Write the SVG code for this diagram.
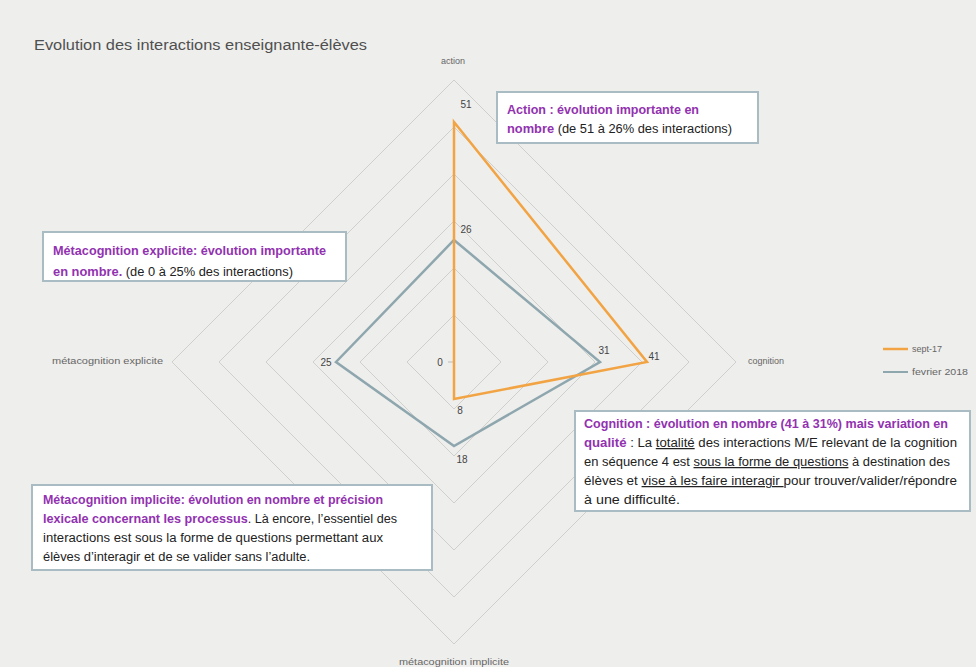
<svg xmlns="http://www.w3.org/2000/svg" width="976" height="667" viewBox="0 0 976 667">
<style>
.bg{fill:#eeeeec}
.grid{fill:none;stroke:#cfcfcd;stroke-width:1}
.axl{font-family:"Liberation Sans",Arial,sans-serif;font-size:9px;fill:#666}
.num{font-family:"Liberation Sans",Arial,sans-serif;font-size:10px;fill:#444;text-anchor:middle}
.box{fill:#ffffff;stroke:#a9bcc3;stroke-width:2}
.bt{font-family:"Liberation Sans",Arial,sans-serif;font-size:12.5px;fill:#222}
.pu{fill:#9232b0;font-weight:bold}
.ul{text-decoration:underline}
.title{font-family:"Liberation Sans",Arial,sans-serif;font-size:15.5px;fill:#505050}
.s1{fill:none;stroke:#f2a444;stroke-width:2.5;stroke-linejoin:miter}
.s2{fill:none;stroke:#8ea6ae;stroke-width:2.5;stroke-linejoin:miter}
</style>
<rect class="bg" x="0" y="0" width="976" height="667"/>
<text class="title" x="34" y="50" textLength="333" lengthAdjust="spacingAndGlyphs">Evolution des interactions enseignante-élèves</text>

<g id="grid">
<polygon class="grid" points="454,315 501,362 454,409 407,362"/>
<polygon class="grid" points="454,268 548,362 454,456 360,362"/>
<polygon class="grid" points="454,221 595,362 454,503 313,362"/>
<polygon class="grid" points="454,174 642,362 454,550 266,362"/>
<polygon class="grid" points="454,127 689,362 454,597 219,362"/>
<polygon class="grid" points="454,80 736,362 454,644 172,362"/>
<line x1="448" y1="362" x2="454" y2="362" stroke="#bbb" stroke-width="1"/>
</g>

<g id="axis-labels">
<text class="axl" x="453" y="64" text-anchor="middle">action</text>
<text class="axl" x="748" y="364">cognition</text>
<text class="axl" x="52" y="364" textLength="111" lengthAdjust="spacingAndGlyphs">métacognition explicite</text>
<text class="axl" x="399" y="665" textLength="110" lengthAdjust="spacingAndGlyphs">métacognition implicite</text>
</g>

<g id="connectors">
<polygon id="series-fevrier-2018" class="s2" points="454,240 600,362 454,446 336,362"/>
<polygon id="series-sept-17" class="s1" points="454,122 647,362 454,399 454,362"/>
</g>

<g id="values">
<text class="num" x="466" y="108">51</text>
<text class="num" x="466" y="233">26</text>
<text class="num" x="440" y="366">0</text>
<text class="num" x="604" y="354">31</text>
<text class="num" x="654" y="360">41</text>
<text class="num" x="326" y="366">25</text>
<text class="num" x="460" y="414">8</text>
<text class="num" x="462" y="463">18</text>
</g>

<g id="legend">
<line x1="883" y1="349" x2="908" y2="349" stroke="#f2a444" stroke-width="2.5"/>
<text class="axl" x="912" y="352">sept-17</text>
<line x1="883" y1="372" x2="908" y2="372" stroke="#8ea6ae" stroke-width="2"/>
<text class="axl" x="912" y="375" textLength="56" lengthAdjust="spacingAndGlyphs">fevrier 2018</text>
</g>

<g id="note-action">
<rect class="box" x="497" y="92" width="261" height="51"/>
<text class="bt" x="507" y="114" textLength="192" lengthAdjust="spacingAndGlyphs"><tspan class="pu">Action : évolution importante en</tspan></text>
<text class="bt" x="507" y="133" textLength="225" lengthAdjust="spacingAndGlyphs"><tspan class="pu">nombre</tspan> (de 51 à 26% des interactions)</text>
</g>

<g id="note-metacognition-explicite">
<rect class="box" x="43" y="232" width="303" height="49"/>
<text class="bt" x="53" y="255" textLength="273" lengthAdjust="spacingAndGlyphs"><tspan class="pu">Métacognition explicite: évolution importante</tspan></text>
<text class="bt" x="53" y="276" textLength="240" lengthAdjust="spacingAndGlyphs"><tspan class="pu">en nombre.</tspan> (de 0 à 25% des interactions)</text>
</g>

<g id="note-cognition">
<rect class="box" x="575" y="411" width="395" height="100"/>
<text class="bt" x="584" y="428" textLength="364" lengthAdjust="spacingAndGlyphs"><tspan class="pu">Cognition : évolution en nombre (41 à 31%) mais variation en</tspan></text>
<text class="bt" x="584" y="447" textLength="373" lengthAdjust="spacingAndGlyphs"><tspan class="pu">qualité</tspan> : La <tspan class="ul">totalité</tspan> des interactions M/E relevant de la cognition</text>
<text class="bt" x="584" y="466" textLength="366" lengthAdjust="spacingAndGlyphs">en séquence 4 est <tspan class="ul">sous la forme de questions</tspan> à destination des</text>
<text class="bt" x="584" y="485" textLength="373" lengthAdjust="spacingAndGlyphs">élèves et <tspan class="ul">vise à les faire interagir </tspan>pour trouver/valider/répondre</text>
<text class="bt" x="584" y="504" textLength="96" lengthAdjust="spacingAndGlyphs">à une difficulté.</text>
</g>

<g id="note-metacognition-implicite">
<rect class="box" x="32" y="485" width="400" height="85"/>
<text class="bt" x="43" y="504" textLength="340" lengthAdjust="spacingAndGlyphs"><tspan class="pu">Métacognition implicite: évolution en nombre et précision</tspan></text>
<text class="bt" x="43" y="523" textLength="354" lengthAdjust="spacingAndGlyphs"><tspan class="pu">lexicale concernant les processus</tspan>. Là encore, l’essentiel des</text>
<text class="bt" x="43" y="542" textLength="340" lengthAdjust="spacingAndGlyphs">interactions est sous la forme de questions permettant aux</text>
<text class="bt" x="43" y="561" textLength="267" lengthAdjust="spacingAndGlyphs">élèves d’interagir et de se valider sans l’adulte.</text>
</g>
</svg>
